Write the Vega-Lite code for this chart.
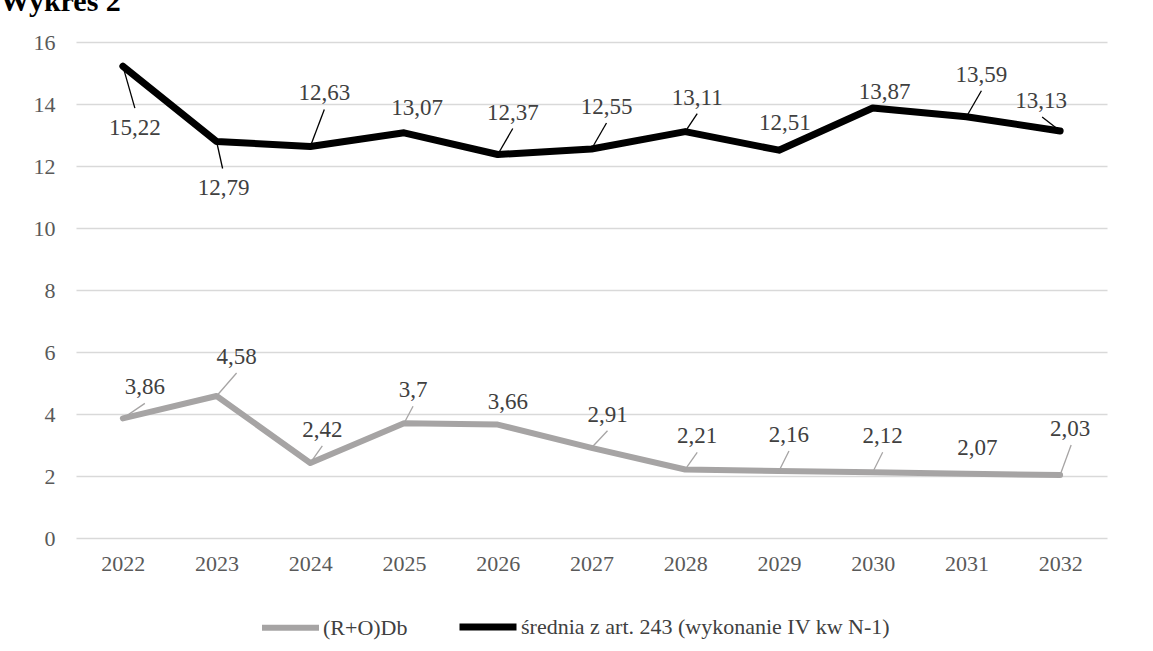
{
  "$schema": "https://vega.github.io/schema/vega-lite/v6.json",
  "width": 1031,
  "height": 496,
  "autosize": "none",
  "padding": {"left": 76, "top": 42, "right": 46, "bottom": 113},
  "background": "#ffffff",
  "title": {
    "text": "Wykres 2",
    "anchor": "start",
    "frame": "group",
    "dx": -76,
    "dy": 31,
    "offset": 21,
    "baseline": "alphabetic",
    "font": "Liberation Serif",
    "fontSize": 30,
    "fontWeight": "bold",
    "color": "#000000"
  },
  "data": {
    "values": [
      {"year": "2022", "series": "(R+O)Db", "value": 3.86},
      {"year": "2023", "series": "(R+O)Db", "value": 4.58},
      {"year": "2024", "series": "(R+O)Db", "value": 2.42},
      {"year": "2025", "series": "(R+O)Db", "value": 3.7},
      {"year": "2026", "series": "(R+O)Db", "value": 3.66},
      {"year": "2027", "series": "(R+O)Db", "value": 2.91},
      {"year": "2028", "series": "(R+O)Db", "value": 2.21},
      {"year": "2029", "series": "(R+O)Db", "value": 2.16},
      {"year": "2030", "series": "(R+O)Db", "value": 2.12},
      {"year": "2031", "series": "(R+O)Db", "value": 2.07},
      {"year": "2032", "series": "(R+O)Db", "value": 2.03},
      {"year": "2022", "series": "średnia z art. 243 (wykonanie IV kw N-1)", "value": 15.22},
      {"year": "2023", "series": "średnia z art. 243 (wykonanie IV kw N-1)", "value": 12.79},
      {"year": "2024", "series": "średnia z art. 243 (wykonanie IV kw N-1)", "value": 12.63},
      {"year": "2025", "series": "średnia z art. 243 (wykonanie IV kw N-1)", "value": 13.07},
      {"year": "2026", "series": "średnia z art. 243 (wykonanie IV kw N-1)", "value": 12.37},
      {"year": "2027", "series": "średnia z art. 243 (wykonanie IV kw N-1)", "value": 12.55},
      {"year": "2028", "series": "średnia z art. 243 (wykonanie IV kw N-1)", "value": 13.11},
      {"year": "2029", "series": "średnia z art. 243 (wykonanie IV kw N-1)", "value": 12.51},
      {"year": "2030", "series": "średnia z art. 243 (wykonanie IV kw N-1)", "value": 13.87},
      {"year": "2031", "series": "średnia z art. 243 (wykonanie IV kw N-1)", "value": 13.59},
      {"year": "2032", "series": "średnia z art. 243 (wykonanie IV kw N-1)", "value": 13.13}
    ]
  },
  "encoding": {
    "x": {
      "field": "year",
      "type": "ordinal",
      "scale": {"type": "point", "padding": 0.5},
      "axis": {
        "title": null,
        "labelAngle": 0,
        "domain": false,
        "ticks": false,
        "grid": false,
        "labelPadding": 15,
        "labelFont": "Liberation Serif",
        "labelFontSize": 22,
        "labelColor": "#595959"
      }
    },
    "y": {
      "field": "value",
      "type": "quantitative",
      "scale": {"domain": [0, 16], "nice": false, "zero": true},
      "axis": {
        "title": null,
        "values": [0, 2, 4, 6, 8, 10, 12, 14, 16],
        "domain": false,
        "ticks": false,
        "grid": true,
        "gridColor": "#d9d9d9",
        "gridWidth": 1.5,
        "labelPadding": 21,
        "labelFont": "Liberation Serif",
        "labelFontSize": 22,
        "labelColor": "#595959"
      }
    }
  },
  "layer": [
    {
      "mark": {"type": "line", "strokeCap": "round", "strokeJoin": "round"},
      "encoding": {
        "color": {
          "field": "series",
          "type": "nominal",
          "scale": {
            "domain": ["(R+O)Db", "średnia z art. 243 (wykonanie IV kw N-1)"],
            "range": ["#a6a4a4", "#000000"]
          },
          "legend": {
            "title": null,
            "orient": "none",
            "legendX": 183,
            "legendY": 553,
            "direction": "horizontal",
            "symbolType": "stroke",
            "symbolSize": 3249,
            "symbolStrokeWidth": 6,
            "labelFont": "Liberation Serif",
            "labelFontSize": 22,
            "labelColor": "#404040",
            "labelOffset": 1,
            "columnPadding": 37,
            "labelLimit": 600
          }
        },
        "strokeWidth": {
          "field": "series",
          "type": "nominal",
          "scale": {
            "domain": ["(R+O)Db", "średnia z art. 243 (wykonanie IV kw N-1)"],
            "range": [6, 7]
          },
          "legend": null
        }
      }
    },
    {
      "transform": [{"filter": {"and": [{"field": "series", "equal": "średnia z art. 243 (wykonanie IV kw N-1)"}, {"field": "year", "oneOf": ["2022"]}]}}],
      "layer": [
        {"mark": {"type": "rule", "stroke": "#000000", "strokeWidth": 1.3, "x2Offset": 12, "y2Offset": 42}, "encoding": {"x2": {"field": "year"}, "y2": {"field": "value"}}},
        {"mark": {"type": "text", "dx": 12, "dy": 62}, "encoding": {"text": {"field": "value", "type": "quantitative", "format": "~g"}}}
      ]
    },
    {
      "transform": [{"filter": {"and": [{"field": "series", "equal": "średnia z art. 243 (wykonanie IV kw N-1)"}, {"field": "year", "oneOf": ["2023"]}]}}],
      "layer": [
        {"mark": {"type": "rule", "stroke": "#000000", "strokeWidth": 1.3, "x2Offset": 6, "y2Offset": 27}, "encoding": {"x2": {"field": "year"}, "y2": {"field": "value"}}},
        {"mark": {"type": "text", "dx": 7, "dy": 46}, "encoding": {"text": {"field": "value", "type": "quantitative", "format": "~g"}}}
      ]
    },
    {
      "transform": [{"filter": {"and": [{"field": "series", "equal": "średnia z art. 243 (wykonanie IV kw N-1)"}, {"field": "year", "oneOf": ["2024"]}]}}],
      "layer": [
        {"mark": {"type": "rule", "stroke": "#000000", "strokeWidth": 1.3, "x2Offset": 14, "y2Offset": -37}, "encoding": {"x2": {"field": "year"}, "y2": {"field": "value"}}},
        {"mark": {"type": "text", "dx": 14, "dy": -53}, "encoding": {"text": {"field": "value", "type": "quantitative", "format": "~g"}}}
      ]
    },
    {
      "transform": [{"filter": {"and": [{"field": "series", "equal": "średnia z art. 243 (wykonanie IV kw N-1)"}, {"field": "year", "oneOf": ["2026", "2027", "2031"]}]}}],
      "layer": [
        {"mark": {"type": "rule", "stroke": "#000000", "strokeWidth": 1.3, "x2Offset": 15, "y2Offset": -26}, "encoding": {"x2": {"field": "year"}, "y2": {"field": "value"}}},
        {"mark": {"type": "text", "dx": 15, "dy": -42}, "encoding": {"text": {"field": "value", "type": "quantitative", "format": "~g"}}}
      ]
    },
    {
      "transform": [{"filter": {"and": [{"field": "series", "equal": "średnia z art. 243 (wykonanie IV kw N-1)"}, {"field": "year", "oneOf": ["2028"]}]}}],
      "layer": [
        {"mark": {"type": "rule", "stroke": "#000000", "strokeWidth": 1.3, "x2Offset": 12, "y2Offset": -18}, "encoding": {"x2": {"field": "year"}, "y2": {"field": "value"}}},
        {"mark": {"type": "text", "dx": 12, "dy": -34}, "encoding": {"text": {"field": "value", "type": "quantitative", "format": "~g"}}}
      ]
    },
    {
      "transform": [{"filter": {"and": [{"field": "series", "equal": "średnia z art. 243 (wykonanie IV kw N-1)"}, {"field": "year", "oneOf": ["2025"]}]}}],
      "mark": {"type": "text", "dx": 13, "dy": -25},
      "encoding": {"text": {"field": "value", "type": "quantitative", "format": "~g"}}
    },
    {
      "transform": [{"filter": {"and": [{"field": "series", "equal": "średnia z art. 243 (wykonanie IV kw N-1)"}, {"field": "year", "oneOf": ["2029"]}]}}],
      "mark": {"type": "text", "dx": 6, "dy": -27},
      "encoding": {"text": {"field": "value", "type": "quantitative", "format": "~g"}}
    },
    {
      "transform": [{"filter": {"and": [{"field": "series", "equal": "średnia z art. 243 (wykonanie IV kw N-1)"}, {"field": "year", "oneOf": ["2030"]}]}}],
      "mark": {"type": "text", "dx": 12, "dy": -16},
      "encoding": {"text": {"field": "value", "type": "quantitative", "format": "~g"}}
    },
    {
      "transform": [{"filter": {"and": [{"field": "series", "equal": "średnia z art. 243 (wykonanie IV kw N-1)"}, {"field": "year", "oneOf": ["2032"]}]}}],
      "layer": [
        {"mark": {"type": "rule", "stroke": "#000000", "strokeWidth": 1.3, "x2Offset": -18, "y2Offset": -14}, "encoding": {"x2": {"field": "year"}, "y2": {"field": "value"}}},
        {"mark": {"type": "text", "dx": -19, "dy": -30}, "encoding": {"text": {"field": "value", "type": "quantitative", "format": "~g"}}}
      ]
    },
    {
      "transform": [{"filter": {"and": [{"field": "series", "equal": "(R+O)Db"}, {"field": "year", "oneOf": ["2022"]}]}}],
      "layer": [
        {"mark": {"type": "rule", "stroke": "#a6a4a4", "strokeWidth": 1.3, "x2Offset": 22, "y2Offset": -15}, "encoding": {"x2": {"field": "year"}, "y2": {"field": "value"}}},
        {"mark": {"type": "text", "dx": 22, "dy": -31}, "encoding": {"text": {"field": "value", "type": "quantitative", "format": "~g"}}}
      ]
    },
    {
      "transform": [{"filter": {"and": [{"field": "series", "equal": "(R+O)Db"}, {"field": "year", "oneOf": ["2023"]}]}}],
      "layer": [
        {"mark": {"type": "rule", "stroke": "#a6a4a4", "strokeWidth": 1.3, "x2Offset": 20, "y2Offset": -23}, "encoding": {"x2": {"field": "year"}, "y2": {"field": "value"}}},
        {"mark": {"type": "text", "dx": 20, "dy": -39}, "encoding": {"text": {"field": "value", "type": "quantitative", "format": "~g"}}}
      ]
    },
    {
      "transform": [{"filter": {"and": [{"field": "series", "equal": "(R+O)Db"}, {"field": "year", "oneOf": ["2024", "2028"]}]}}],
      "layer": [
        {"mark": {"type": "rule", "stroke": "#a6a4a4", "strokeWidth": 1.3, "x2Offset": 12, "y2Offset": -17}, "encoding": {"x2": {"field": "year"}, "y2": {"field": "value"}}},
        {"mark": {"type": "text", "dx": 12, "dy": -33}, "encoding": {"text": {"field": "value", "type": "quantitative", "format": "~g"}}}
      ]
    },
    {
      "transform": [{"filter": {"and": [{"field": "series", "equal": "(R+O)Db"}, {"field": "year", "oneOf": ["2029", "2030"]}]}}],
      "layer": [
        {"mark": {"type": "rule", "stroke": "#a6a4a4", "strokeWidth": 1.3, "x2Offset": 10, "y2Offset": -20}, "encoding": {"x2": {"field": "year"}, "y2": {"field": "value"}}},
        {"mark": {"type": "text", "dx": 10, "dy": -36}, "encoding": {"text": {"field": "value", "type": "quantitative", "format": "~g"}}}
      ]
    },
    {
      "transform": [{"filter": {"and": [{"field": "series", "equal": "(R+O)Db"}, {"field": "year", "oneOf": ["2025"]}]}}],
      "layer": [
        {"mark": {"type": "rule", "stroke": "#a6a4a4", "strokeWidth": 1.3, "x2Offset": 9, "y2Offset": -17}, "encoding": {"x2": {"field": "year"}, "y2": {"field": "value"}}},
        {"mark": {"type": "text", "dx": 9, "dy": -33}, "encoding": {"text": {"field": "value", "type": "quantitative", "format": "~g"}}}
      ]
    },
    {
      "transform": [{"filter": {"and": [{"field": "series", "equal": "(R+O)Db"}, {"field": "year", "oneOf": ["2027"]}]}}],
      "layer": [
        {"mark": {"type": "rule", "stroke": "#a6a4a4", "strokeWidth": 1.3, "x2Offset": 16, "y2Offset": -17}, "encoding": {"x2": {"field": "year"}, "y2": {"field": "value"}}},
        {"mark": {"type": "text", "dx": 16, "dy": -33}, "encoding": {"text": {"field": "value", "type": "quantitative", "format": "~g"}}}
      ]
    },
    {
      "transform": [{"filter": {"and": [{"field": "series", "equal": "(R+O)Db"}, {"field": "year", "oneOf": ["2026"]}]}}],
      "mark": {"type": "text", "dx": 10, "dy": -23},
      "encoding": {"text": {"field": "value", "type": "quantitative", "format": "~g"}}
    },
    {
      "transform": [{"filter": {"and": [{"field": "series", "equal": "(R+O)Db"}, {"field": "year", "oneOf": ["2031"]}]}}],
      "mark": {"type": "text", "dx": 11, "dy": -26},
      "encoding": {"text": {"field": "value", "type": "quantitative", "format": "~g"}}
    },
    {
      "transform": [{"filter": {"and": [{"field": "series", "equal": "(R+O)Db"}, {"field": "year", "oneOf": ["2032"]}]}}],
      "layer": [
        {"mark": {"type": "rule", "stroke": "#a6a4a4", "strokeWidth": 1.3, "x2Offset": 11, "y2Offset": -30}, "encoding": {"x2": {"field": "year"}, "y2": {"field": "value"}}},
        {"mark": {"type": "text", "dx": 10, "dy": -46}, "encoding": {"text": {"field": "value", "type": "quantitative", "format": "~g"}}}
      ]
    }
  ],
  "config": {
    "locale": {"number": {"decimal": ",", "thousands": " ", "grouping": [3], "currency": ["", " zł"]}},
    "view": {"stroke": null},
    "text": {"font": "Liberation Serif", "fontSize": 23, "color": "#404040", "align": "center", "baseline": "middle"}
  }
}
